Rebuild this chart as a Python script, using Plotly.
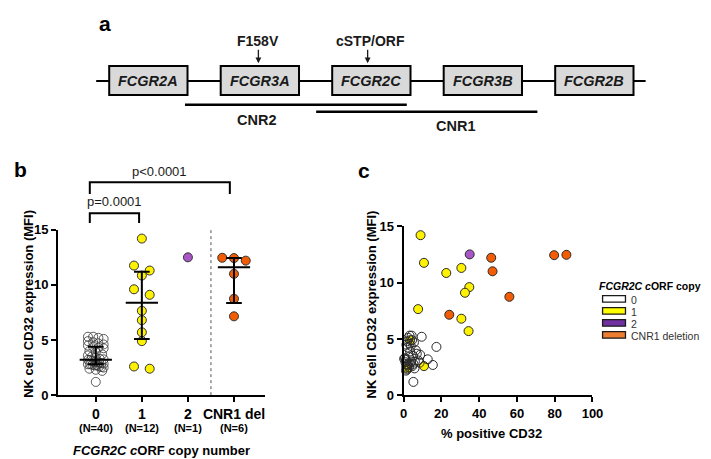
import plotly.graph_objects as go

W, H = 711, 459
FONT = "Liberation Sans"

# ---------------- data ----------------
genes = ["FCGR2A", "FCGR3A", "FCGR2C", "FCGR3B", "FCGR2B"]
variant_labels = ["F158V", "cSTP/ORF"]
cnr_labels = ["CNR2", "CNR1"]

categories = ["0", "1", "2", "CNR1 del"]
n_labels = ["(N=40)", "(N=12)", "(N=1)", "(N=6)"]
cat_pos = [0, 1, 2, 3]

# NK cell CD32 expression (MFI) per group
mfi_0 = [5.3, 5.2, 5.3, 5.1, 4.9, 4.8, 4.7, 4.6, 4.5, 4.4,
         4.3, 4.25, 4.0, 3.9, 3.7, 3.6, 3.5, 3.4, 3.3, 3.25,
         3.2, 3.15, 3.1, 3.0, 3.0, 2.95, 2.9, 2.85, 2.8, 2.8,
         2.75, 2.7, 2.7, 2.6, 2.55, 2.5, 2.4, 2.3, 2.2, 1.2]
mfi_1 = [14.2, 11.75, 11.3, 10.85, 9.6, 9.1, 7.65, 6.8, 5.7, 4.9, 2.6, 2.4]
mfi_2 = [12.5]
mfi_3 = [12.46, 12.43, 12.2, 11.0, 8.74, 7.15]

# % positive CD32 (same order as MFI lists)
pct_0 = [4.3, 9.6, 3.2, 2.5, 4.5, 2.0, 5.5, 3.0, 1.5, 3.8,
         17.4, 2.2, 6.5, 3.5, 7.0, 8.8, 5.0, 2.8, 0.8, 0.3,
         12.8, 1.2, 7.8, 4.0, 6.0, 1.0, 8.5, 3.3, 1.6, 5.2,
         2.4, 15.5, 1.8, 4.6, 1.4, 2.9, 5.8, 1.9, 1.3, 5.2]
pct_1 = [9.0, 10.8, 30.6, 22.6, 34.8, 32.5, 7.7, 30.6, 34.4, 3.5, 10.8, 2.0]
pct_2 = [35.0]
pct_3 = [86.2, 79.7, 46.4, 47.1, 56.0, 24.2]

# median and interquartile range per group (group "2" has a single point)
med = [3.2, 8.37, None, 11.6]
q1 = [2.8, 5.1, None, 8.36]
q3 = [4.4, 11.2, None, 12.44]

legend_labels = ["0", "1", "2", "CNR1 deletion"]
legend_colors = ["#FFFFFF", "#FFFF00", "#7030A0", "#ED7D31"]
marker_fill = ["rgba(255,255,255,0)", "#FFF200", "#A855C8", "#F25C05"]

p_texts = ["p=0.0001", "p<0.0001"]


# ---------------- helpers ----------------
def px(x):
    return x / W


def py(y):
    return 1 - y / H


def rows_swarm(vals, thr=9.0, s_max=16.0, w_max=24.0, ys=11.4, xs=47.0):
    """GraphPad-like scatter: values close in height share a centred row"""
    order = sorted(range(len(vals)), key=lambda i: -vals[i])
    rows = []
    for i in order:
        if rows and (vals[rows[-1][0]] - vals[i]) * ys < thr:
            rows[-1].append(i)
        else:
            rows.append([i])
    offs = [0.0] * len(vals)
    for r in rows:
        n = len(r)
        if n == 1:
            continue
        s = min(s_max, w_max / (n - 1))
        for k, i in enumerate(r):
            offs[i] = (k - (n - 1) / 2) * s / xs
    return offs


fig = go.Figure()

# ---------------- panel b ----------------
groups = [mfi_0, mfi_1, mfi_2, mfi_3]
swarm_params = [(4.5, 6.5, 16.0), (9.0, 16.0, 24.0), (9.0, 16.0, 24.0), (9.0, 16.0, 24.0)]
line_w = [0.8, 1, 1, 1]
for gi, vals in enumerate(groups):
    thr, smax, wmax = swarm_params[gi]
    offs = rows_swarm(vals, thr=thr, s_max=smax, w_max=wmax)
    fig.add_trace(go.Scatter(
        x=[cat_pos[gi] + o for o in offs], y=vals, mode="markers",
        xaxis="x", yaxis="y", cliponaxis=False, showlegend=False,
        marker=dict(size=9, color=marker_fill[gi],
                    line=dict(color="#333333", width=line_w[gi])),
        hoverinfo="skip"))

ex, ey = [], []
for gi in range(4):
    if med[gi] is None:
        continue
    c = cat_pos[gi]
    ex += [c - 0.35, c + 0.35, None]
    ey += [med[gi], med[gi], None]
    ex += [c, c, None]
    ey += [q1[gi], q3[gi], None]
    ex += [c - 0.17, c + 0.17, None, c - 0.17, c + 0.17, None]
    ey += [q1[gi], q1[gi], None, q3[gi], q3[gi], None]
fig.add_trace(go.Scatter(x=ex, y=ey, mode="lines", xaxis="x", yaxis="y",
                         line=dict(color="black", width=2),
                         showlegend=False, hoverinfo="skip"))

# ---------------- panel c ----------------
xs_c = [pct_1, pct_2, pct_3, pct_0]
ys_c = [mfi_1, mfi_2, mfi_3, mfi_0]
fills_c = [marker_fill[1], marker_fill[2], marker_fill[3], marker_fill[0]]
for xv, yv, fc in zip(xs_c, ys_c, fills_c):
    fig.add_trace(go.Scatter(
        x=xv, y=yv, mode="markers", xaxis="x2", yaxis="y2",
        cliponaxis=False, showlegend=False,
        marker=dict(size=9, color=fc, line=dict(color="#2a2a2a", width=1)),
        hoverinfo="skip"))

axis_common = dict(showline=True, linecolor="black", linewidth=2,
                   ticks="outside", ticklen=5, tickwidth=2, tickcolor="black",
                   showgrid=False, zeroline=False, fixedrange=True)

fig.update_layout(
    width=W, height=H,
    margin=dict(l=0, r=0, t=0, b=0),
    paper_bgcolor="white", plot_bgcolor="white",
    font=dict(family=FONT, color="black"),
    showlegend=False,
    xaxis=dict(domain=[px(47), px(258.3)], range=[-0.82, 3.67],
               tickvals=cat_pos, ticktext=categories, anchor="y",
               tickfont=dict(size=14, weight="bold", color="black", family=FONT),
               **axis_common),
    yaxis=dict(domain=[py(393), py(222)], range=[0, 15],
               tickvals=[0, 5, 10, 15], anchor="x",
               tickfont=dict(size=13, weight="bold", color="black", family=FONT),
               **axis_common),
    xaxis2=dict(domain=[px(400), px(593)], range=[0, 100], dtick=20,
                anchor="y2",
                tickfont=dict(size=13, weight="bold", color="black", family=FONT),
                **axis_common),
    yaxis2=dict(domain=[py(393.3), py(218.3)], range=[0, 15],
                tickvals=[0, 5, 10, 15], anchor="x2",
                tickfont=dict(size=13, weight="bold", color="black", family=FONT),
                **axis_common),
)

shapes = []
annotations = []

# ---------------- panel a ----------------
line_y = 68.3
shapes.append(dict(type="line", xref="paper", yref="paper",
                   x0=px(86), x1=px(647.3), y0=py(line_y), y1=py(line_y),
                   line=dict(color="black", width=2)))
box_x0 = 99.3
box_step = 113.9
box_w = 80
for i, g in enumerate(genes):
    x0 = box_x0 + i * box_step
    shapes.append(dict(type="rect", xref="paper", yref="paper",
                       x0=px(x0), x1=px(x0 + box_w), y0=py(82.7), y1=py(52.7),
                       fillcolor="#D9D9D9", line=dict(color="black", width=2)))
    annotations.append(dict(text="<b><i>%s</i></b>" % g, xref="paper", yref="paper",
                            x=px(x0 + box_w / 2), y=py(68), showarrow=False,
                            font=dict(size=14.5, color="#1a1a1a", family=FONT),
                            xanchor="center", yanchor="middle"))

arrow_x = [251.7, 363.3]
label_x = [251.7, 366]
for t, ax_, lx in zip(variant_labels, arrow_x, label_x):
    annotations.append(dict(text="<b>%s</b>" % t, xref="paper", yref="paper",
                            x=px(lx), y=py(27), showarrow=False,
                            font=dict(size=14, color="#1a1a1a", family=FONT),
                            xanchor="center", yanchor="middle"))
    annotations.append(dict(text="", xref="paper", yref="paper",
                            x=px(ax_), y=py(50), ax=0, ay=-15,
                            showarrow=True, arrowhead=2, arrowsize=0.9,
                            arrowwidth=1.3, arrowcolor="#1a1a1a"))

cnr_lines = [(176.7, 403.3, 92.7), (310.7, 536.7, 100.0)]
cnr_text_pos = [(250, 108.3), (453, 115)]
for (x0, x1, yy), (tx, ty), lab in zip(cnr_lines, cnr_text_pos, cnr_labels):
    shapes.append(dict(type="line", xref="paper", yref="paper",
                       x0=px(x0), x1=px(x1), y0=py(yy), y1=py(yy),
                       line=dict(color="black", width=2.5)))
    annotations.append(dict(text="<b>%s</b>" % lab, xref="paper", yref="paper",
                            x=px(tx), y=py(ty), showarrow=False,
                            font=dict(size=14.5, color="#1a1a1a", family=FONT),
                            xanchor="center", yanchor="middle"))

# panel letters
for lab, (lx, ly) in zip(["a", "b", "c"], [(95, 9), (9, 160), (360, 161)]):
    annotations.append(dict(text="<b>%s</b>" % lab, xref="paper", yref="paper",
                            x=px(lx), y=py(ly), showarrow=False,
                            font=dict(size=21, color="black", family=FONT),
                            xanchor="center", yanchor="middle"))

# ---------------- panel b extras ----------------
for c, nl in zip(cat_pos, n_labels):
    annotations.append(dict(text="<b>%s</b>" % nl, xref="x", yref="paper",
                            x=c, y=py(427), showarrow=False,
                            font=dict(size=11, color="black", family=FONT),
                            xanchor="center", yanchor="middle"))
annotations.append(dict(text="<b><i>FCGR2C</i> <i>c</i>ORF copy number</b>",
                        xref="paper", yref="paper", x=px(152.5), y=py(450),
                        showarrow=False, font=dict(size=13, color="black", family=FONT),
                        xanchor="center", yanchor="middle"))
annotations.append(dict(text="<b>NK cell CD32 expression (MFI)</b>",
                        xref="paper", yref="paper", x=px(17), y=py(299),
                        showarrow=False, textangle=-90,
                        font=dict(size=13, color="black", family=FONT),
                        xanchor="center", yanchor="middle"))
shapes.append(dict(type="line", xref="x", yref="y", x0=2.5, x1=2.5, y0=0, y1=15,
                   line=dict(color="#555555", width=1, dash="dot")))
brackets = [(-0.13, 0.94, 205, 215, 193), (-0.13, 2.91, 173, 185, 162)]
for (bx0, bx1, ytop, yleg, ytext), pt in zip(brackets, p_texts):
    shapes.append(dict(type="path", xref="x", yref="paper",
                       path="M %f,%f L %f,%f L %f,%f L %f,%f" % (
                           bx0, py(yleg), bx0, py(ytop), bx1, py(ytop), bx1, py(yleg)),
                       line=dict(color="black", width=2)))
    annotations.append(dict(text=pt, xref="x", yref="paper",
                            x=(bx0 + bx1) / 2, y=py(ytext), showarrow=False,
                            font=dict(size=13, color="#1a1a1a", family=FONT),
                            xanchor="center", yanchor="middle"))

# ---------------- panel c extras ----------------
annotations.append(dict(text="<b>% positive CD32</b>", xref="paper", yref="paper",
                        x=px(490), y=py(433), showarrow=False,
                        font=dict(size=13, color="black", family=FONT),
                        xanchor="center", yanchor="middle"))
annotations.append(dict(text="<b>NK cell CD32 expression (MFI)</b>",
                        xref="paper", yref="paper", x=px(367), y=py(299),
                        showarrow=False, textangle=-90,
                        font=dict(size=13, color="black", family=FONT),
                        xanchor="center", yanchor="middle"))
annotations.append(dict(text="<b><i>FCGR2C</i> <i>c</i>ORF copy</b>",
                        xref="paper", yref="paper", x=px(598.5), y=py(280),
                        showarrow=False, font=dict(size=10.5, color="black", family=FONT),
                        xanchor="left", yanchor="middle", borderpad=0))
for i, (lab, col) in enumerate(zip(legend_labels, legend_colors)):
    yc = 293.5 + 12.4 * i
    shapes.append(dict(type="rect", xref="paper", yref="paper",
                       x0=px(603.3), x1=px(626.7), y0=py(yc + 3.4), y1=py(yc - 3.4),
                       fillcolor=col, line=dict(color="#1a1a1a", width=1.3)))
    annotations.append(dict(text=lab, xref="paper", yref="paper",
                            x=px(631), y=py(yc + 0.8), showarrow=False,
                            font=dict(size=10.5, color="#333333", family=FONT),
                            xanchor="left", yanchor="middle", borderpad=0))

fig.update_layout(shapes=shapes, annotations=annotations)
fig.write_html("out.html")
